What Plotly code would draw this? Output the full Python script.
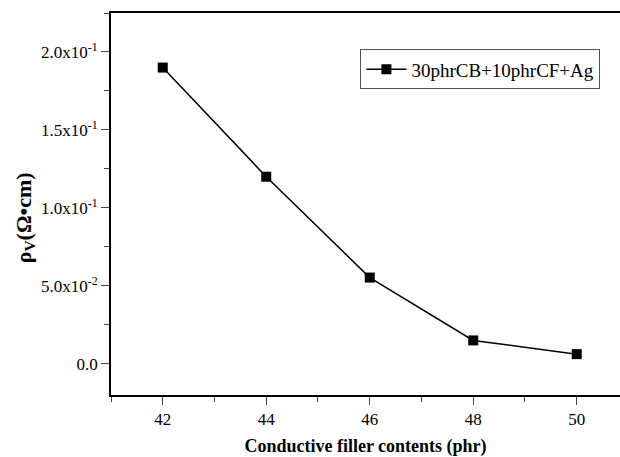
import plotly.graph_objects as go

filler_phr = [42, 44, 46, 48, 50]
resistivity = [0.190, 0.120, 0.0553, 0.0150, 0.0062]
series_name = "30phrCB+10phrCF+Ag"
y_tick_vals = [0.0, 0.05, 0.10, 0.15, 0.20]
y_tick_text = ["0.0", "5.0x10<sup>-2</sup>", "1.0x10<sup>-1</sup>", "1.5x10<sup>-1</sup>", "2.0x10<sup>-1</sup>"]
x_tick_vals = [42, 44, 46, 48, 50]
y_title = "<b>ρ<sub>V</sub>(Ω•cm)</b>"
x_title = "<b>Conductive filler contents (phr)</b>"

font_family = "Liberation Serif, Times New Roman, serif"

fig = go.Figure()
fig.add_trace(go.Scatter(
    x=filler_phr, y=resistivity, mode="lines+markers", name=series_name,
    line=dict(color="black", width=1.5),
    marker=dict(symbol="square", size=10, color="black"),
))

fig.update_layout(
    width=620, height=457,
    margin=dict(l=111, r=0, t=13, b=62),
    paper_bgcolor="white", plot_bgcolor="white",
    font=dict(family=font_family, size=17, color="black"),
    showlegend=True,
    legend=dict(x=0.49, y=0.905, xanchor="left", yanchor="top",
                bordercolor="#555", borderwidth=1, bgcolor="white",
                font=dict(family=font_family, size=19, color="black"),
                itemwidth=40, tracegroupgap=0),
    xaxis=dict(range=[41, 50.836], tickvals=x_tick_vals, ticks="outside", ticklen=8,
               tickwidth=1.3, showline=True, linecolor="black", linewidth=1.8,
               mirror=True, showgrid=False, zeroline=False,
               minor=dict(dtick=1, tick0=41, ticks="outside", ticklen=5, tickwidth=1.2, showgrid=False),
               title=dict(text=x_title, font=dict(size=18), standoff=14),
               tickfont=dict(size=17)),
    yaxis=dict(range=[-0.02, 0.225], tickvals=y_tick_vals, ticktext=y_tick_text,
               ticks="outside", ticklen=8, tickwidth=1.3, showline=True, linecolor="black",
               linewidth=1.8, showgrid=False, zeroline=False,
               minor=dict(dtick=0.025, tick0=0, ticks="outside", ticklen=5, tickwidth=1.2, showgrid=False),
               tickfont=dict(size=17)),
    annotations=[dict(text=y_title, textangle=-90, xref="paper", yref="paper",
                      x=-0.169, y=0.465, xanchor="center", yanchor="middle",
                      showarrow=False, font=dict(size=22, family=font_family, color="black"))],
)

fig.write_html("out.html")
